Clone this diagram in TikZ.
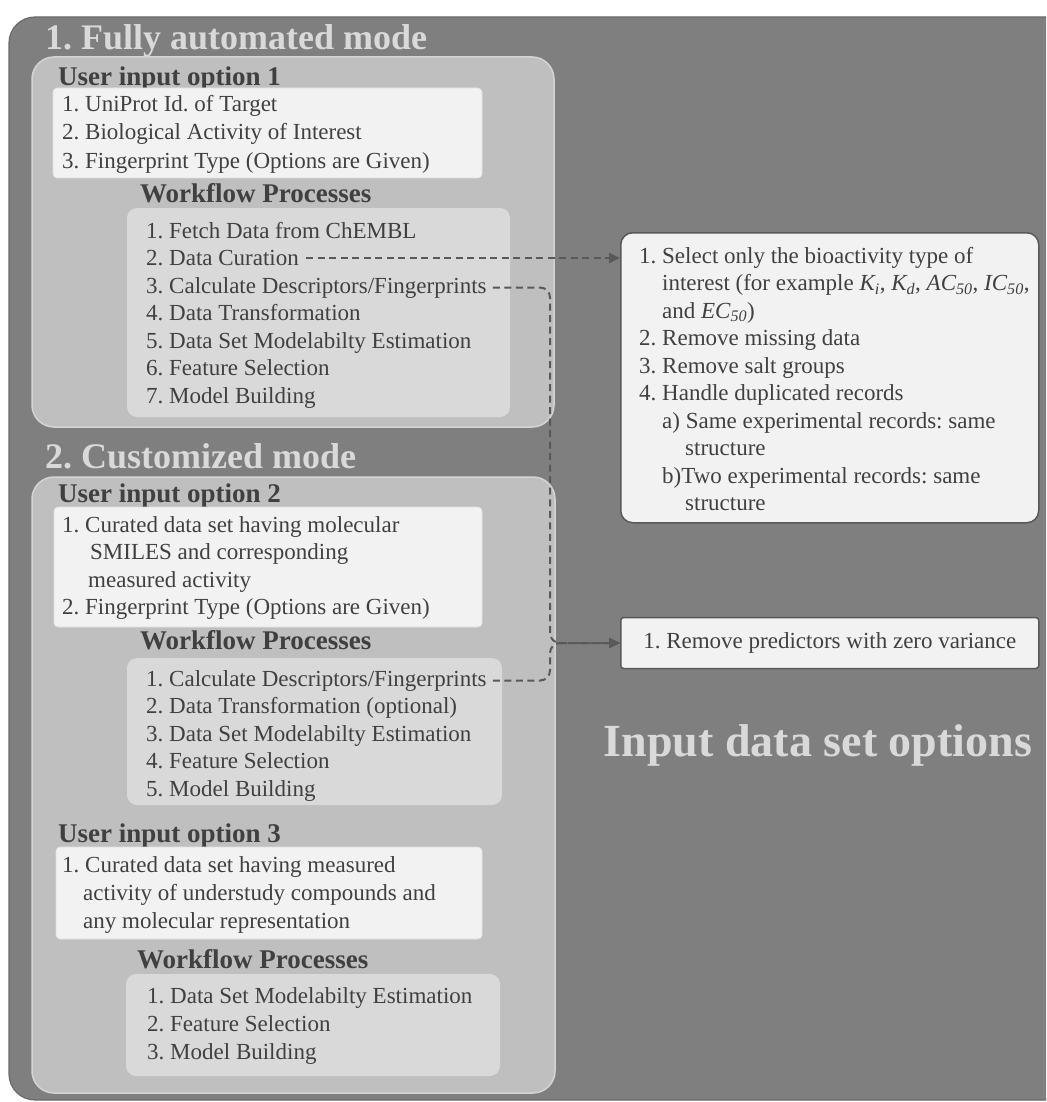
\documentclass[tikz,border=0pt]{standalone}
\usepackage{fontspec}
\setmainfont{Liberation Serif}
\usetikzlibrary{arrows.meta}
\frenchspacing
\definecolor{outerbg}{HTML}{7F7F7F}
\definecolor{outerrim}{HTML}{6B6B6B}
\definecolor{panelbg}{HTML}{BFBFBF}
\definecolor{panelrim}{HTML}{D4D4D4}
\definecolor{inbg}{HTML}{F2F2F2}
\definecolor{wfbg}{HTML}{D9D9D9}
\definecolor{ink}{HTML}{404040}
\definecolor{pale}{HTML}{D9D9D9}
\definecolor{dashgray}{HTML}{595959}
\tikzset{
  panel/.style={fill=panelbg, draw=panelrim, line width=1.5pt, rounded corners=22pt},
  inbox/.style={fill=inbg, draw=inbg!92!black, line width=0.6pt, rounded corners=4pt},
  wfbox/.style={fill=wfbg, rounded corners=10pt},
  notebox/.style={fill=inbg, draw=dashgray, line width=1.5pt, rounded corners=12pt, inner sep=0pt},
  modetitle/.style={anchor=base west, inner sep=0pt, text=pale, font=\bfseries\fontsize{36}{40}\selectfont},
  heading/.style={anchor=base west, inner sep=0pt, text=ink, font=\bfseries\fontsize{27}{30}\selectfont},
  item/.style={anchor=base west, inner sep=0pt, text=ink, font=\fontsize{23}{27}\selectfont},
  flow/.style={draw=dashgray, line width=2pt, dash pattern=on 7pt off 4.5pt, -{Triangle[length=11pt,width=10pt]}}
}
\begin{document}
\begin{tikzpicture}[x=1pt,y=-1pt]
  \useasboundingbox (0,0) rectangle (1046,1102);
  \clip (0,0) rectangle (1046,1102);
  \fill[white] (0,0) rectangle (1046,1102);
  \draw[fill=outerbg, draw=outerrim, line width=1.2pt, rounded corners=26pt] (9,17) rectangle (1080,1100);

  \node[modetitle] (auto) at (45,50) {1. Fully automated mode};
  \draw[panel] (32,57) rectangle (554,427);
  \node[heading] (opt1) at (58,86) {User input option 1};
  \draw[inbox] (53,88) rectangle (482,178);
  \foreach \t [count=\i] in {1. UniProt Id. of Target, 2. Biological Activity of Interest, 3. Fingerprint Type (Options are Given)}
    \node[item] (ina\i) at (62,84+28*\i) {\t};
  \node[heading] (wf1) at (140,202) {Workflow Processes};
  \fill[wfbox] (127,208) rectangle (510,417);
  \foreach \t [count=\i] in {1. Fetch Data from ChEMBL, 2. Data Curation, 3. Calculate Descriptors/Fingerprints,
      4. Data Transformation, 5. Data Set Modelabilty Estimation, 6. Feature Selection, 7. Model Building}
    \node[item] (wfa\i) at (146,210.5+27.5*\i) {\t};

  \node[modetitle] (custom) at (45,468) {2. Customized mode};
  \draw[panel] (32,477) rectangle (555,1093);
  \node[heading] (opt2) at (58,502) {User input option 2};
  \draw[inbox] (54,507) rectangle (482,627);
  \node[item] (inb1) at (62,532) {1. Curated data set having molecular};
  \node[item] (inb2) at (90,559.5) {SMILES and corresponding};
  \node[item] (inb3) at (88,587) {measured activity};
  \node[item] (inb4) at (62,614.5) {2. Fingerprint Type (Options are Given)};
  \node[heading] (wf2) at (140,649) {Workflow Processes};
  \fill[wfbox] (127,658) rectangle (502,805);
  \foreach \t [count=\i] in {1. Calculate Descriptors/Fingerprints, 2. Data Transformation (optional),
      3. Data Set Modelabilty Estimation, 4. Feature Selection, 5. Model Building}
    \node[item] (wfb\i) at (146,658.5+27.5*\i) {\t};

  \node[heading] (opt3) at (58,842) {User input option 3};
  \draw[inbox] (56,847) rectangle (482,939);
  \node[item] (inc1) at (62,872) {1. Curated data set having measured};
  \node[item] (inc2) at (83,900) {activity of understudy compounds and};
  \node[item] (inc3) at (83,928) {any molecular representation};
  \node[heading] (wf3) at (137,968) {Workflow Processes};
  \fill[wfbox] (126,974) rectangle (500,1076);
  \foreach \t [count=\i] in {1. Data Set Modelabilty Estimation, 2. Feature Selection, 3. Model Building}
    \node[item] (wfc\i) at (147,975+28*\i) {\t};

  \node[notebox, anchor=north west, minimum width=418pt, minimum height=290pt] (curation) at (620,232) {};
  \foreach \dx/\t [count=\i] in {639/{1. Select only the bioactivity type of},
      662/{interest (for example \textit{K\textsubscript{i}}, \textit{K\textsubscript{d}}, \textit{AC\textsubscript{50}}, \textit{IC\textsubscript{50}},},
      662/{and \textit{EC\textsubscript{50}})}, 639/{2. Remove missing data}, 639/{3. Remove salt groups},
      639/{4. Handle duplicated records}, 662/{a) Same experimental records: same}, 685/{structure},
      662/{b)Two experimental records: same}, 685/{structure}}
    \node[item] (cur\i) at (\dx,235.5+27.5*\i) {\t};

  \node[notebox, rounded corners=3pt, anchor=west, minimum height=51pt, minimum width=418pt,
    font=\fontsize{23}{27}\selectfont, text=ink] (variance) at (620,643) {1. Remove predictors with zero variance};

  \node[text=pale, font=\bfseries\fontsize{46}{50}\selectfont] (inputs) at (818,745) {Input data set options};

  \coordinate (bend) at (550,643);
  \draw[flow, shorten <=7pt] (wfa2.east) -- (wfa2.east -| curation.west);
  \draw[flow, rounded corners=10pt, shorten <=6pt] (wfa3.east) -- (wfa3.east -| bend) -- (bend) -- (variance.west);
  \draw[flow, rounded corners=10pt, shorten <=6pt] (wfb1.east) -- (wfb1.east -| bend) -- (bend) -- (variance.west);
\end{tikzpicture}
\end{document}
